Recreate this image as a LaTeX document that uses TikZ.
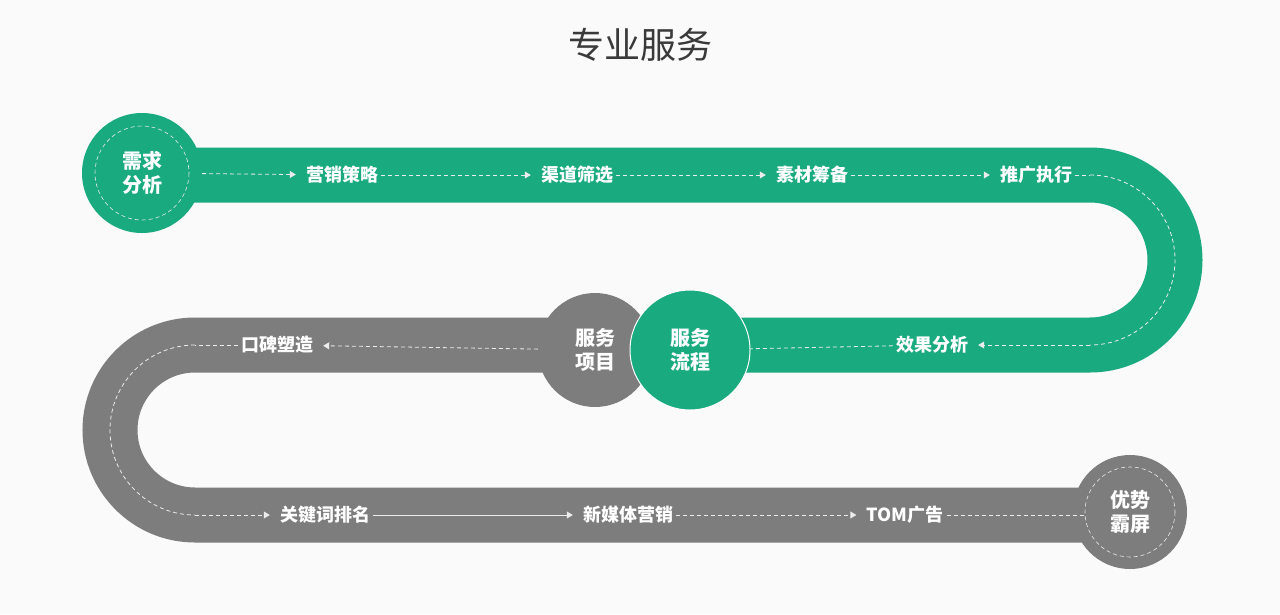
\documentclass[tikz,border=0pt]{standalone}
\usepackage{fontspec}
\newfontfamily\cjk{Noto Sans CJK SC}
\usetikzlibrary{arrows.meta, positioning}
\definecolor{bandgreen}{HTML}{1AAA80}
\definecolor{bandgray}{HTML}{7D7D7D}
\definecolor{titlegray}{HTML}{3A3A3A}
\tikzset{
  lbl/.style={text=white, font=\cjk\bfseries\fontsize{18}{18}\selectfont, inner sep=3pt},
  hub/.style={circle, minimum size=#1, text=white, font=\cjk\bfseries\fontsize{20}{24}\selectfont, align=center, inner sep=0pt},
  dash line/.style={white!85!gray, dash pattern=on 4pt off 3pt, line width=0.8pt},
  tip/.style={-{Triangle[length=6pt,width=7pt]}, shorten >=7pt},
}
\begin{document}
\begin{tikzpicture}[x=1pt, y=-1pt]
\useasboundingbox[fill=white!98!black] (0,0) rectangle (1280,614);
% title
\node[text=titlegray, font=\cjk\fontsize{36}{36}\selectfont] (title) at (640,45) {专业服务};
% bands
\draw[bandgray, line width=55pt] (595,345) -- (195,345) arc[start angle=-90, end angle=-270, radius=85] -- (1130,515);
\draw[bandgreen, line width=55pt] (142,175) -- (1090,175) arc[start angle=-90, end angle=90, radius=85] -- (690,345);
% dashed guide along the bends
\draw[dash line] (1090,175) arc[start angle=-90, end angle=90, radius=85];
\draw[dash line] (195,345) arc[start angle=-90, end angle=-270, radius=85];
% hubs
\node[hub=120pt, fill=bandgreen] (need) at (142,173) {需求\\分析};
\draw[dash line, line width=0.6pt] (need) circle[radius=47];
\node[hub=114pt, fill=bandgray] (items) at (595,350) {服务\\项目};
\node[hub=120pt, fill=bandgreen, draw=white, line width=1pt] (flow) at (690,350) {服务\\流程};
\node[hub=114pt, fill=bandgray] (screen) at (1130,512) {优势\\霸屏};
\draw[dash line, line width=0.6pt] (screen) circle[radius=45];
% labels
\node[lbl] (plan) at (342,175) {营销策略};
\node[lbl] (chan) at (577,175) {渠道筛选};
\node[lbl] (prep) at (812,175) {素材筹备};
\node[lbl] (exec) at (1036,175) {推广执行};
\node[lbl] (eval) at (932,345) {效果分析};
\node[lbl] (rep) at (277,345) {口碑塑造};
\node[lbl] (seo) at (325,515) {关键词排名};
\node[lbl] (media) at (628,515) {新媒体营销};
\node[lbl] (tom) at (905,515) {TOM广告};
\coordinate (topend) at (1090,175);
\coordinate (rightend) at (1090,345);
\coordinate (leftend) at (195,345);
\coordinate (bottomend) at (195,515);
\coordinate (screenend) at (1085,515);
% connectors
\draw[dash line, tip] (need) -- (plan);
\draw[dash line, tip] (plan) -- (chan);
\draw[dash line, tip] (chan) -- (prep);
\draw[dash line, tip] (prep) -- (exec);
\draw[dash line] (exec) -- (topend);
\draw[dash line, tip] (rightend) -- (eval);
\draw[dash line] (eval) -- (flow);
\draw[dash line, tip] (items) -- (rep);
\draw[dash line] (rep) -- (leftend);
\draw[dash line, tip] (bottomend) -- (seo);
\draw[white!85!gray, line width=0.8pt, tip] (seo) -- (media);
\draw[dash line, tip] (media) -- (tom);
\draw[dash line] (tom) -- (screenend);
\end{tikzpicture}
\end{document}
